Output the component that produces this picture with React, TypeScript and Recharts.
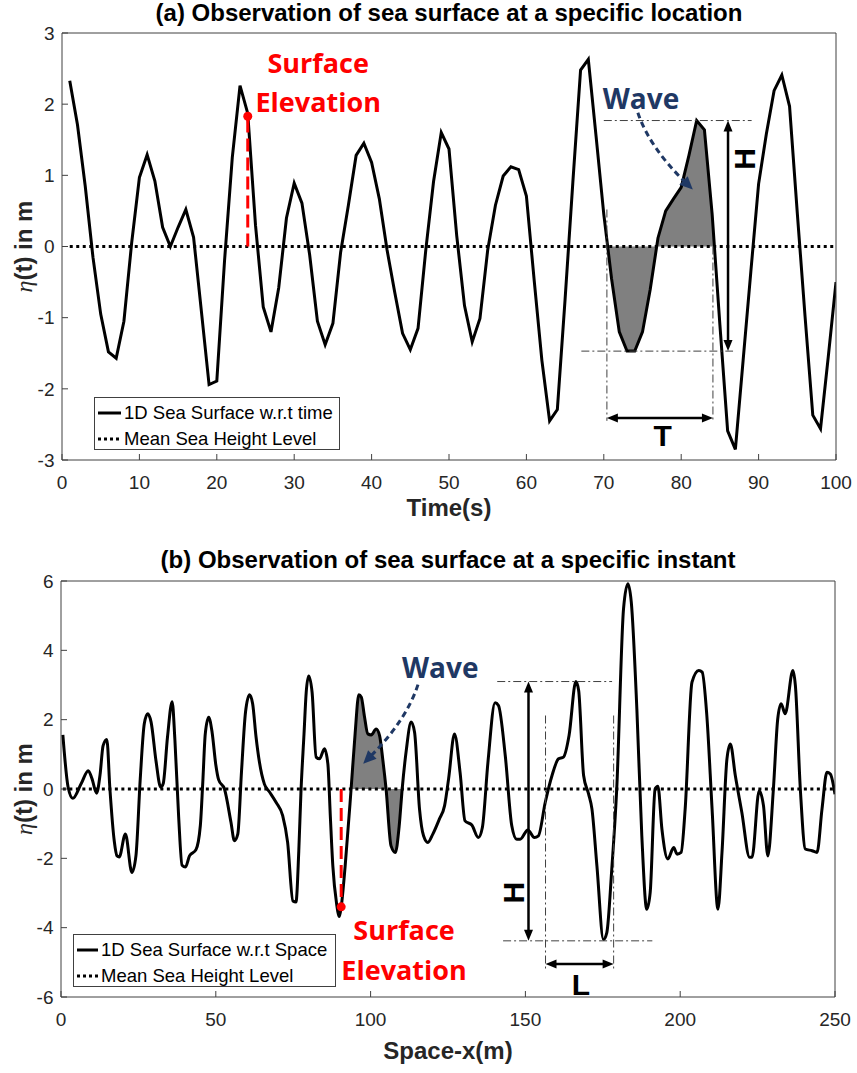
import React from "react";
import { ComposedChart, Line, Area, XAxis, YAxis, ReferenceLine, ReferenceDot, Legend } from "recharts";

const FONT = '"Liberation Sans", Arial, Helvetica, sans-serif';
const NOTE_FONT = '"Open Sans", "Noto Sans", sans-serif';
const AXIS = "#404040";
const TICK_TEXT = "#262626";
const RED = "#ff0000";
const NAVY = "#1f3864";
const SHADE = "#808080";

// ---- (a) sea surface vs time ----
const timeSeconds = Array.from({ length: 100 }, (_, i) => i + 1);
const etaTime = [
  2.33, 1.71, 0.85, -0.15, -0.95, -1.48, -1.57, -1.05, 0.05, 0.97,
  1.29, 0.92, 0.27, 0.0, 0.27, 0.52, 0.13, -0.9, -1.94, -1.89,
  -0.2, 1.25, 2.26, 1.87, 0.3, -0.85, -1.2, -0.58, 0.4, 0.89,
  0.61, -0.12, -1.05, -1.38, -1.08, -0.08, 0.58, 1.28, 1.45, 1.18,
  0.67, -0.05, -0.65, -1.22, -1.45, -1.15, -0.05, 0.91, 1.6, 1.37,
  0.15, -0.83, -1.34, -1.01, -0.05, 0.58, 0.99, 1.12, 1.08, 0.71,
  -0.47, -1.6, -2.45, -2.29, -0.74, 0.9, 2.48, 2.63, 1.55, 0.45,
  -0.45, -1.2, -1.47, -1.47, -1.2, -0.6, 0.12, 0.5, 0.67, 0.83,
  1.28, 1.77, 1.64, 0.45, -1.1, -2.59, -2.85, -1.6, -0.35, 0.88,
  1.58, 2.19, 2.41, 1.97, 0.47, -0.98, -2.37, -2.56, -1.55, -0.5,
];
const timeTicks = [0, 10, 20, 30, 40, 50, 60, 70, 80, 90, 100];
const etaTicksTime = [-3, -2, -1, 0, 1, 2, 3];
const waveStartT = 70.5;
const waveEndT = 84.3;

// ---- (b) sea surface vs space ----
const spaceX = [
  0.6, 2.3, 3.8, 6.5, 8.8, 10.0, 11.5, 12.6, 13.6, 14.8,
  15.8, 17.2, 18.1, 18.8, 20.8, 22.9, 24.2, 25.6, 26.9, 28.0,
  29.1, 30.7, 32.2, 33.0, 34.4, 35.9, 36.8, 38.0, 39.1, 40.2,
  41.5, 43.6, 45.0, 45.8, 46.6, 47.7, 48.8, 50.0, 50.9, 52.8,
  54.9, 56.0, 57.1, 58.3, 59.6, 60.9, 61.9, 63.0, 64.1, 65.7,
  67.3, 69.5, 71.6, 73.2, 74.9, 75.9, 76.8, 77.5, 78.5, 79.2,
  80.0, 81.1, 82.4, 83.5, 85.1, 86.2, 87.0, 87.8, 89.0, 89.9,
  90.5, 91.8, 93.7, 95.0, 96.2, 97.0, 98.0, 99.1, 100.2, 101.8,
  102.9, 104.0, 105.0, 106.6, 108.0, 109.2, 110.2, 111.5, 113.1, 114.2,
  115.8, 117.1, 118.5, 120.1, 122.2, 123.9, 125.2, 127.1, 128.9, 130.5,
  132.7, 134.8, 136.1, 137.9, 140.2, 141.3, 143.5, 145.6, 147.2, 148.3,
  150.8, 152.9, 154.2, 156.4, 158.6, 160.7, 162.3, 164.1, 166.3, 167.2,
  168.8, 170.4, 171.5, 173.1, 175.2, 176.3, 177.9, 179.5, 181.7, 183.1,
  184.2, 186.0, 187.6, 189.2, 190.3, 191.9, 192.8, 194.1, 196.0, 197.9,
  199.0, 200.3, 201.6, 203.8, 206.0, 207.1, 208.6, 210.3, 212.2, 213.5,
  215.1, 216.2, 217.8, 219.9, 222.4, 223.2, 225.5, 226.9, 228.3, 230.1,
  231.5, 232.6, 233.9, 236.4, 237.2, 238.8, 240.4, 242.6, 244.2, 245.8,
  247.4, 248.5, 250.0,
];
const etaSpace = [
  1.56, 0.05, -0.27, 0.15, 0.53, 0.3, -0.12, 0.4, 1.25, 1.43,
  0.0, -1.5, -1.93, -1.96, -1.3, -2.41, -1.93, 0.3, 1.88, 2.17,
  1.93, 0.8, 0.05, 0.15, 1.5, 2.52, 1.4, -0.8, -2.2, -2.25,
  -1.93, -1.75, -1.06, 0.2, 1.59, 2.07, 1.64, 0.7, 0.27, 0.0,
  -0.96, -1.49, -1.3, 0.5, 2.22, 2.72, 2.46, 1.5, 0.77, 0.14,
  -0.08, -0.39, -0.77, -1.54, -3.23, -3.26, -1.8, -0.1, 1.6, 2.79,
  3.26, 2.79, 0.92, 0.87, 1.16, 0.72, -0.8, -2.22, -3.3, -3.68,
  -3.4, -2.2, 0.0, 1.6, 2.72, 2.65, 2.1, 1.59, 1.56, 1.73,
  1.54, 0.8, 0.0, -1.64, -1.83, -1.1, 0.0, 1.1, 1.93, 1.64,
  -0.58, -1.35, -1.54, -1.3, -0.87, -0.48, 0.3, 1.59, 0.48, -0.92,
  -1.04, -1.4, -1.11, 0.77, 2.49, 2.41, 0.96, -1.06, -1.45, -1.45,
  -1.18, -1.4, -1.35, -0.39, 0.39, 0.87, 0.92, 1.54, 3.1, 2.84,
  0.39, -0.14, -0.58, -2.22, -4.34, -4.14, -2.31, 0.0, 5.2, 5.92,
  5.39, 2.31, -1.35, -3.47, -2.99, 0.0, 0.08, -1.16, -2.02, -1.69,
  -1.88, -1.83, -0.58, 3.08, 3.42, 3.37, 2.12, -0.58, -3.47, -1.83,
  0.87, 1.3, 0.39, -0.67, -1.97, -1.97, -0.05, -0.48, -1.93, 0.0,
  2.02, 2.46, 2.17, 3.42, 2.99, 0.0, -1.73, -1.78, -1.83, -0.58,
  0.48, 0.43, -0.15,
];
const spaceTicks = [0, 50, 100, 150, 200, 250];
const etaTicksSpace = [-6, -4, -2, 0, 2, 4, 6];
const waveStartX = 93.7;
const waveEndX = 110.2;

const meanLevel = 0;

const timeRows = timeSeconds.map((t, i) => ({ t, eta: etaTime[i], mean: meanLevel }));
const timeShade = [
  { t: waveStartT, eta: meanLevel },
  ...timeRows.filter((r) => r.t > waveStartT && r.t < waveEndT),
  { t: waveEndT, eta: meanLevel },
];
const spaceRows = spaceX.map((x, i) => ({ x, eta: etaSpace[i], mean: meanLevel }));
const spaceShade = spaceRows.filter((r) => r.x >= waveStartX && r.x <= waveEndX);

// ---- shapes ----
const head = (x: number, y: number, ux: number, uy: number, len: number, half: number) => {
  const bx = x - ux * len;
  const by = y - uy * len;
  return `${x},${y} ${bx - uy * half},${by + ux * half} ${bx + uy * half},${by - ux * half}`;
};

const doubleArrow = (p: any) => {
  const { x1, y1, x2, y2 } = p;
  const d = Math.hypot(x2 - x1, y2 - y1) || 1;
  const ux = (x2 - x1) / d;
  const uy = (y2 - y1) / d;
  return (
    <g>
      <line x1={x1 + ux * 6} y1={y1 + uy * 6} x2={x2 - ux * 6} y2={y2 - uy * 6} stroke="#000" strokeWidth={2.5} />
      <polygon points={head(x2, y2, ux, uy, 11, 4.5)} fill="#000" />
      <polygon points={head(x1, y1, -ux, -uy, 11, 4.5)} fill="#000" />
    </g>
  );
};

const curvedArrow = (p: any) => {
  const { x1, y1, x2, y2 } = p;
  const cx = x1 + 0.21 * (x2 - x1);
  const cy = y1 + 0.45 * (y2 - y1);
  const d = Math.hypot(x2 - cx, y2 - cy) || 1;
  const ux = (x2 - cx) / d;
  const uy = (y2 - cy) / d;
  return (
    <g>
      <path
        d={`M${x1},${y1} Q${cx},${cy} ${x2 - ux * 10},${y2 - uy * 10}`}
        fill="none"
        stroke={NAVY}
        strokeWidth={3}
        strokeDasharray="6 4"
      />
      <polygon points={head(x2, y2, ux, uy, 13, 6)} fill={NAVY} />
    </g>
  );
};

const note = (text: string, color: string, size: number, family: string, rotate = false) => (p: any) => (
  <text
    x={p.cx}
    y={p.cy}
    fill={color}
    fontSize={size}
    fontWeight={700}
    fontFamily={family}
    textAnchor="middle"
    dominantBaseline="central"
    transform={rotate ? `rotate(-90 ${p.cx} ${p.cy})` : undefined}
  >
    {text}
  </text>
);

const yLabel = (props: any) => {
  const vb = props.viewBox || { x: 0, y: 0, height: 0 };
  const x = vb.x + 32;
  const y = vb.y + vb.height / 2;
  return (
    <text x={x} y={y} transform={`rotate(-90 ${x} ${y})`} textAnchor="middle" fontSize={24} fontWeight={700} fill={TICK_TEXT} fontFamily={FONT}>
      <tspan fontFamily='"Liberation Serif", serif' fontStyle="italic" fontWeight={400}>η</tspan>
      <tspan>(t) in m</tspan>
    </text>
  );
};

const legendBox = (first: string, lineW: number) => () => (
  <div
    style={{
      width: "100%",
      height: "100%",
      boxSizing: "border-box",
      border: `1px solid ${AXIS}`,
      background: "#fff",
      fontFamily: FONT,
      fontSize: 18.5,
      color: "#000",
      padding: "2px 0 0 3px",
      lineHeight: "26px",
    }}
  >
    {[
      { label: first, dash: undefined },
      { label: "Mean Sea Height Level", dash: "3 3" },
    ].map((e) => (
      <div key={e.label} style={{ display: "flex", alignItems: "center", height: 26, whiteSpace: "nowrap" }}>
        <svg width={lineW} height={6} style={{ marginRight: 3 }}>
          <line x1={0} y1={3} x2={lineW} y2={3} stroke="#000" strokeWidth={3} strokeDasharray={e.dash} />
        </svg>
        <span>{e.label}</span>
      </div>
    ))}
  </div>
);

const tickStyle = { fontSize: 19, fill: TICK_TEXT, fontFamily: FONT };
const axisLabel = { fontSize: 24, fontWeight: 700, fill: TICK_TEXT, fontFamily: FONT };
const dashDot = { stroke: "#404040", strokeWidth: 1, strokeDasharray: "8 3 2 3" };

const titleStyle = (top: number, left: number): React.CSSProperties => ({
  position: "absolute",
  left,
  top,
  width: 774,
  textAlign: "center",
  fontFamily: FONT,
  fontSize: 24,
  fontWeight: 700,
  lineHeight: "26px",
  color: "#000",
});

export default function App() {
  return (
    <div style={{ position: "absolute", left: 0, top: 0, width: 857, height: 1073, background: "#fff" }}>
      <div style={titleStyle(0, 62)}>(a) Observation of sea surface at a specific location</div>
      <div style={{ position: "absolute", left: 0, top: 0 }}>
        <ComposedChart width={857} height={530} data={timeRows} margin={{ top: 32, right: 20, bottom: 0, left: 0 }}>
          <XAxis
            dataKey="t"
            type="number"
            domain={[0, 100]}
            ticks={timeTicks}
            allowDataOverflow
            stroke={AXIS}
            tick={tickStyle}
            tickSize={-6}
            tickMargin={22}
            height={70}
            label={{ value: "Time(s)", position: "insideBottom", offset: 14, ...axisLabel }}
          />
          <XAxis xAxisId="top" orientation="top" type="number" domain={[0, 100]} ticks={timeTicks} allowDataOverflow stroke={AXIS} tick={false} tickSize={-6} height={1} />
          <YAxis
            type="number"
            domain={[-3, 3]}
            ticks={etaTicksTime}
            allowDataOverflow
            stroke={AXIS}
            tick={tickStyle}
            tickSize={-6}
            tickMargin={13.5}
            width={62}
            label={yLabel}
          />
          <YAxis yAxisId="right" orientation="right" type="number" domain={[-3, 3]} ticks={etaTicksTime} allowDataOverflow stroke={AXIS} tick={false} tickSize={-6} width={1} />

          <Area data={timeShade} dataKey="eta" type="linear" baseValue={0} fill={SHADE} fillOpacity={1} stroke="none" isAnimationActive={false} />
          <Line dataKey="mean" type="linear" stroke="#000" strokeWidth={3} strokeDasharray="3 3.5" dot={false} isAnimationActive={false} />
          <Line dataKey="eta" type="linear" stroke="#000" strokeWidth={3} dot={false} isAnimationActive={false} />

          <ReferenceLine segment={[{ x: 70, y: 1.77 }, { x: 89.1, y: 1.77 }]} {...dashDot} />
          <ReferenceLine segment={[{ x: 67.1, y: -1.47 }, { x: 86.7, y: -1.47 }]} {...dashDot} />
          <ReferenceLine segment={[{ x: 70.4, y: 0.52 }, { x: 70.4, y: -2.45 }]} {...dashDot} />
          <ReferenceLine segment={[{ x: 84.1, y: 0 }, { x: 84.1, y: -2.45 }]} {...dashDot} />
          <ReferenceLine segment={[{ x: 86.05, y: 1.77 }, { x: 86.05, y: -1.47 }]} shape={doubleArrow} />
          <ReferenceLine segment={[{ x: 70.4, y: -2.41 }, { x: 84.1, y: -2.41 }]} shape={doubleArrow} />
          <ReferenceLine segment={[{ x: 74.4, y: 1.88 }, { x: 81.5, y: 0.8 }]} shape={curvedArrow} />
          <ReferenceLine segment={[{ x: 24, y: 0 }, { x: 24, y: 1.83 }]} stroke={RED} strokeWidth={3} strokeDasharray="13 6" />
          <ReferenceDot x={24} y={1.83} r={4.5} fill={RED} stroke="none" />

          <ReferenceDot x={33.1} y={2.58} shape={note("Surface", RED, 27, NOTE_FONT)} />
          <ReferenceDot x={33.1} y={2.04} shape={note("Elevation", RED, 27, NOTE_FONT)} />
          <ReferenceDot x={74.8} y={2.09} shape={note("Wave", NAVY, 28, NOTE_FONT)} />
          <ReferenceDot x={88.2} y={1.23} shape={note("H", "#000", 30, FONT, true)} />
          <ReferenceDot x={77.6} y={-2.66} shape={note("T", "#000", 30, FONT)} />

          <Legend
            layout="vertical"
            align="center"
            verticalAlign="middle"
            content={legendBox("1D Sea Surface w.r.t time", 23)}
            wrapperStyle={{ left: 94, top: 397, width: 246, height: 53 }}
          />
        </ComposedChart>
      </div>

      <div style={titleStyle(547, 61)}>(b) Observation of sea surface at a specific instant</div>
      <div style={{ position: "absolute", left: 0, top: 540 }}>
        <ComposedChart width={857} height={533} data={spaceRows} margin={{ top: 40, right: 21, bottom: 0, left: 0 }}>
          <XAxis
            dataKey="x"
            type="number"
            domain={[0, 250]}
            ticks={spaceTicks}
            allowDataOverflow
            stroke={AXIS}
            tick={tickStyle}
            tickSize={-6}
            tickMargin={22}
            height={76}
            label={{ value: "Space-x(m)", position: "insideBottom", offset: 14, ...axisLabel }}
          />
          <XAxis xAxisId="top" orientation="top" type="number" domain={[0, 250]} ticks={spaceTicks} allowDataOverflow stroke={AXIS} tick={false} tickSize={-6} height={1} />
          <YAxis
            type="number"
            domain={[-6, 6]}
            ticks={etaTicksSpace}
            allowDataOverflow
            stroke={AXIS}
            tick={tickStyle}
            tickSize={-6}
            tickMargin={13.5}
            width={61}
            label={yLabel}
          />
          <YAxis yAxisId="right" orientation="right" type="number" domain={[-6, 6]} ticks={etaTicksSpace} allowDataOverflow stroke={AXIS} tick={false} tickSize={-6} width={1} />

          <Area data={spaceShade} dataKey="eta" type="monotone" baseValue={0} fill={SHADE} fillOpacity={1} stroke="none" isAnimationActive={false} />
          <Line dataKey="mean" type="linear" stroke="#000" strokeWidth={3} strokeDasharray="3 3.5" dot={false} isAnimationActive={false} />
          <Line dataKey="eta" type="monotone" stroke="#000" strokeWidth={3} dot={false} isAnimationActive={false} />

          <ReferenceLine segment={[{ x: 140.9, y: 3.1 }, { x: 178, y: 3.1 }]} {...dashDot} />
          <ReferenceLine segment={[{ x: 142.8, y: -4.38 }, { x: 191, y: -4.38 }]} {...dashDot} />
          <ReferenceLine segment={[{ x: 156.5, y: 2.12 }, { x: 156.5, y: -5.19 }]} {...dashDot} />
          <ReferenceLine segment={[{ x: 178.5, y: 2.12 }, { x: 178.5, y: -5.19 }]} {...dashDot} />
          <ReferenceLine segment={[{ x: 151, y: 3.1 }, { x: 151, y: -4.38 }]} shape={doubleArrow} />
          <ReferenceLine segment={[{ x: 156.5, y: -5.05 }, { x: 178.5, y: -5.05 }]} shape={doubleArrow} />
          <ReferenceLine segment={[{ x: 115.3, y: 3.01 }, { x: 97.6, y: 0.73 }]} shape={curvedArrow} />
          <ReferenceLine segment={[{ x: 90.5, y: 0 }, { x: 90.5, y: -3.4 }]} stroke={RED} strokeWidth={3} strokeDasharray="13 6" />
          <ReferenceDot x={90.5} y={-3.4} r={4.5} fill={RED} stroke="none" />

          <ReferenceDot x={110.8} y={-4.06} shape={note("Surface", RED, 27, NOTE_FONT)} />
          <ReferenceDot x={110.8} y={-5.22} shape={note("Elevation", RED, 27, NOTE_FONT)} />
          <ReferenceDot x={122.5} y={3.51} shape={note("Wave", NAVY, 28, NOTE_FONT)} />
          <ReferenceDot x={146.1} y={-2.99} shape={note("H", "#000", 30, FONT, true)} />
          <ReferenceDot x={167.9} y={-5.63} shape={note("L", "#000", 30, FONT)} />

          <Legend
            layout="vertical"
            align="center"
            verticalAlign="middle"
            content={legendBox("1D Sea Surface w.r.t Space", 21)}
            wrapperStyle={{ left: 73, top: 394, width: 263, height: 53 }}
          />
        </ComposedChart>
      </div>
    </div>
  );
}
